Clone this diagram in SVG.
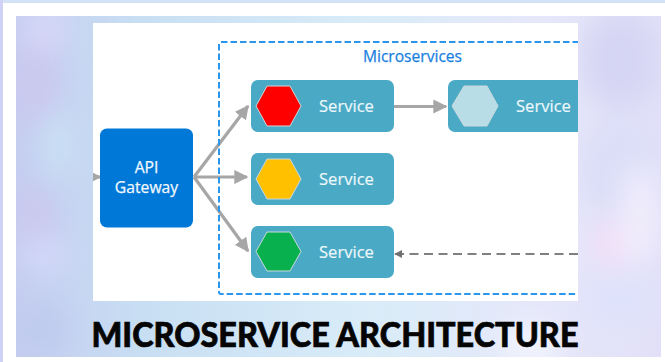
<svg xmlns="http://www.w3.org/2000/svg" width="665" height="362" viewBox="0 0 665 362">
<style>
.svc{fill:#4aaac6}
.lbl{font-family:"Open Sans","Liberation Sans",sans-serif;font-size:16.600px;fill:#eef8fb;stroke:#eef8fb;stroke-width:.15}
.gw{font-family:"Open Sans","Liberation Sans",sans-serif;font-size:15.700px;fill:#f2f8fd;stroke:#f2f8fd;stroke-width:.25;text-anchor:middle}
.hex{stroke:#c9d9dc;stroke-width:1}
.arr{stroke:#a6a6a6;stroke-width:3.200;fill:none;marker-end:url(#ah)}
</style>
<defs>
<marker id="ah" viewBox="0 0 10 10" refX="9" refY="5" markerWidth="4.400" markerHeight="4.400" orient="auto"><path d="M0 0L10 5L0 10z" fill="#a6a6a6"/></marker>
<marker id="ad" viewBox="0 0 10 10" refX="9" refY="5" markerWidth="4.500" markerHeight="5" orient="auto"><path d="M0 0L10 5L0 10z" fill="#707070"/></marker>
<filter id="b" x="-50%" y="-50%" width="200%" height="200%"><feGaussianBlur stdDeviation="14"/></filter>
<linearGradient id="g" x1="0" y1="0" x2="1" y2="0"><stop offset="0" stop-color="#c5cdf0"/><stop offset=".2" stop-color="#c8dff3"/><stop offset=".55" stop-color="#d9ecf8"/><stop offset=".8" stop-color="#e6e8fa"/><stop offset="1" stop-color="#e2e0f8"/></linearGradient>
<clipPath id="c"><rect x="16" y="16" width="645" height="341"/></clipPath>
<clipPath id="p"><rect x="93" y="23" width="485" height="278"/></clipPath>
</defs>
<rect width="665" height="362" fill="#fff"/>
<rect width="665" height="3" fill="#d3e2f7"/>
<rect width="3" height="362" fill="#d0d2f5"/>
<rect x="16" y="16" width="645" height="341" fill="url(#g)"/>
<g clip-path="url(#c)">
<g filter="url(#b)">
<ellipse cx="45" cy="30" rx="22" ry="22" fill="#d8d8f8"/>
<ellipse cx="35" cy="85" rx="22" ry="40" fill="#cbc8ee"/>
<ellipse cx="58" cy="145" rx="14" ry="35" fill="#c9e2f4"/>
<ellipse cx="35" cy="215" rx="20" ry="28" fill="#cbc8ee"/>
<ellipse cx="45" cy="255" rx="25" ry="18" fill="#d3d8f8"/>
<ellipse cx="40" cy="330" rx="30" ry="25" fill="#bfcbee"/>
<ellipse cx="620" cy="60" rx="40" ry="50" fill="#d6d6f4"/>
<ellipse cx="620" cy="170" rx="40" ry="50" fill="#dcdef8"/>
<ellipse cx="620" cy="300" rx="40" ry="30" fill="#dfe2fb"/>
<ellipse cx="530" cy="345" rx="30" ry="14" fill="#f6f9fe"/>
</g>
<ellipse cx="612" cy="243" rx="18" ry="22" fill="#f6dff6" filter="url(#b)"/>
<ellipse cx="640" cy="215" rx="18" ry="50" fill="#f2eefc" filter="url(#b)"/>
</g>
<rect x="93" y="23" width="485" height="278" fill="#fff"/>
<g id="connectors" clip-path="url(#p)">
<path class="arr" d="M87 177H100"/>
<path class="arr" d="M194 177L248 106"/>
<path class="arr" d="M194 177H247"/>
<path class="arr" d="M194 177L248 251"/>
<path class="arr" d="M394 106.500H446"/>
<path d="M578 254H395" fill="none" stroke="#808080" stroke-width="1.800" stroke-dasharray="9 5.500" marker-end="url(#ad)"/>
</g>
<g id="microservices" clip-path="url(#p)">
<rect x="219" y="42" width="420" height="252" rx="2" fill="none" stroke="#2a96ee" stroke-width="2" stroke-dasharray="6.500 3"/>
<text x="412.500" y="62" text-anchor="middle" font-family="'Open Sans','Liberation Sans',sans-serif" font-size="15.600" fill="#1a7fe0" stroke="#1a7fe0" stroke-width=".25">Microservices</text>
</g>
<g id="api-gateway">
<rect x="100" y="128.500" width="93" height="99" rx="7" fill="#0078d7"/>
<text class="gw"><tspan x="146.500" y="173">API</tspan><tspan x="146.500" y="192.500">Gateway</tspan></text>
</g>
<g id="service-red">
<rect class="svc" x="251" y="80" width="143" height="52" rx="7"/>
<path class="hex" d="M256 106L267 86H290L301 106L290 126H267z" fill="#fe0000"/>
<text class="lbl" x="319" y="112">Service</text>
</g>
<g id="service-yellow">
<rect class="svc" x="251" y="153" width="143" height="52" rx="7"/>
<path class="hex" d="M256 179L267 159H290L301 179L290 199H267z" fill="#ffc000"/>
<text class="lbl" x="319" y="184.500">Service</text>
</g>
<g id="service-green">
<rect class="svc" x="251" y="226" width="143" height="52" rx="7"/>
<path class="hex" d="M256 251.500L267 232H290L301 251.500L290 271H267z" fill="#08b04e"/>
<text class="lbl" x="319" y="257.500">Service</text>
</g>
<g id="service-light" clip-path="url(#p)">
<rect class="svc" x="448" y="80" width="160" height="52" rx="7"/>
<path class="hex" d="M452 106L464 86H487L498 106L487 126H464z" fill="#b8dde7"/>
<text class="lbl" x="516" y="112">Service</text>
</g>
<text x="335" y="347" text-anchor="middle" font-family="Lato,'Liberation Sans',sans-serif" font-weight="900" font-size="35" textLength="487" lengthAdjust="spacingAndGlyphs" fill="#050505" stroke="#050505" stroke-width=".7">MICROSERVICE ARCHITECTURE</text>
</svg>
